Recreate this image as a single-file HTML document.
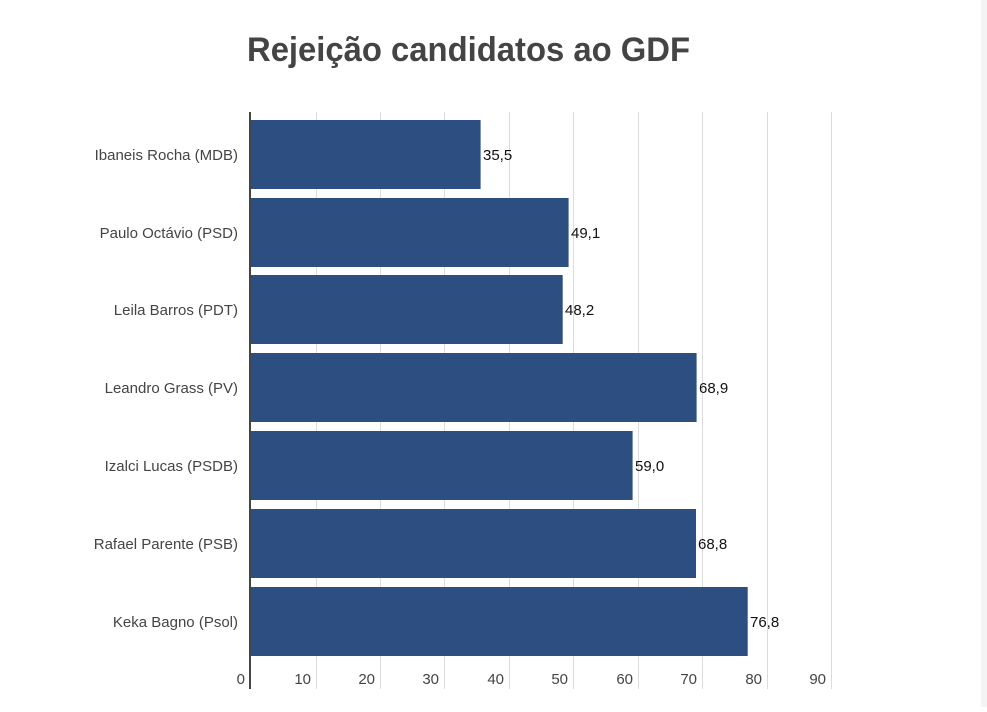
<!DOCTYPE html>
<html><head><meta charset="utf-8"><style>
body{margin:0;background:#fff;}
svg text{font-family:"Liberation Sans",sans-serif;}
</style></head><body>
<svg width="987" height="707" xmlns="http://www.w3.org/2000/svg">
<rect x="981" y="0" width="6" height="707" fill="#f4f4f4"/>
<text x="247" y="61" font-size="34" font-weight="bold" fill="#444" textLength="443" lengthAdjust="spacingAndGlyphs">Rejeição candidatos ao GDF</text>
<g stroke="#dcdcdc" stroke-width="1">
<line x1="316.5" y1="112" x2="316.5" y2="689"/>
<line x1="380.5" y1="112" x2="380.5" y2="689"/>
<line x1="444.5" y1="112" x2="444.5" y2="689"/>
<line x1="509.5" y1="112" x2="509.5" y2="689"/>
<line x1="573.5" y1="112" x2="573.5" y2="689"/>
<line x1="638.5" y1="112" x2="638.5" y2="689"/>
<line x1="702.5" y1="112" x2="702.5" y2="689"/>
<line x1="767.5" y1="112" x2="767.5" y2="689"/>
<line x1="831.5" y1="112" x2="831.5" y2="689"/>
</g>
<g fill="#2d4e80">
<rect x="251" y="120" width="229.6" height="69"/>
<rect x="251" y="198" width="317.6" height="69"/>
<rect x="251" y="275" width="311.7" height="69"/>
<rect x="251" y="353" width="445.6" height="69"/>
<rect x="251" y="431" width="381.6" height="69"/>
<rect x="251" y="509" width="445" height="69"/>
<rect x="251" y="587" width="496.7" height="69"/>
</g>
<line x1="250" y1="112" x2="250" y2="689" stroke="#444" stroke-width="2"/>
<g font-size="15" fill="#111">
<text x="483" y="160">35,5</text>
<text x="571" y="238">49,1</text>
<text x="565" y="315">48,2</text>
<text x="699" y="393">68,9</text>
<text x="635" y="471">59,0</text>
<text x="698" y="549">68,8</text>
<text x="750" y="627">76,8</text>
</g>
<g font-size="15" fill="#444" text-anchor="end">
<text x="238" y="160">Ibaneis Rocha (MDB)</text>
<text x="238" y="238">Paulo Octávio (PSD)</text>
<text x="238" y="315">Leila Barros (PDT)</text>
<text x="238" y="393">Leandro Grass (PV)</text>
<text x="238" y="471">Izalci Lucas (PSDB)</text>
<text x="238" y="549">Rafael Parente (PSB)</text>
<text x="238" y="627">Keka Bagno (Psol)</text>
<text x="245" y="684">0</text>
<text x="311" y="684">10</text>
<text x="375" y="684">20</text>
<text x="439" y="684">30</text>
<text x="504" y="684">40</text>
<text x="568" y="684">50</text>
<text x="633" y="684">60</text>
<text x="697" y="684">70</text>
<text x="762" y="684">80</text>
<text x="826" y="684">90</text>
</g>
</svg>
</body></html>
